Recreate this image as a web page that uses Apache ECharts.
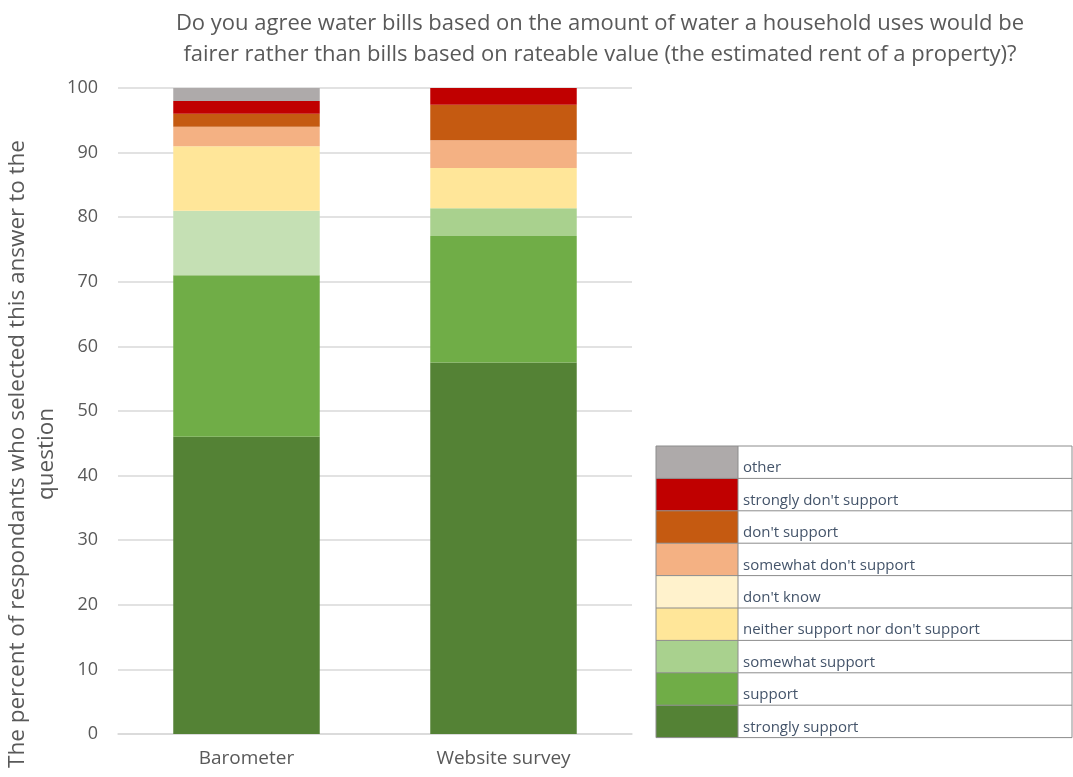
<!DOCTYPE html>
<html>
<head>
<meta charset="utf-8">
<script src="https://cdn.jsdelivr.net/npm/echarts@6/dist/echarts.min.js"></script>
<style>
  html, body { margin: 0; padding: 0; background: #fff; }
  #chart { width: 1073px; height: 777px; }
</style>
</head>
<body>
<div id="chart"></div>
<script>
// Survey groups (x axis)
const categories = ['Barometer', 'Website survey'];

// Answer options, stacked from the bottom of each bar upwards
const answers = [
  'strongly support',
  'support',
  'somewhat support',
  'neither support nor don\'t support',
  'don\'t know',
  'somewhat don\'t support',
  'don\'t support',
  'strongly don\'t support',
  'other'
];

// Percent of respondents per answer, [Barometer, Website survey]
const stronglySupport     = [46, 57.5];
const support             = [25, 19.6];
const somewhatSupport     = [10, 4.3];
const neitherSupport      = [10, 6.2];
const dontKnow            = [0, 0];
const somewhatDontSupport = [3, 4.3];
const dontSupport         = [2, 5.5];
const stronglyDontSupport = [2, 2.6];
const other               = [2, 0];

const values = [
  stronglySupport, support, somewhatSupport, neitherSupport, dontKnow,
  somewhatDontSupport, dontSupport, stronglyDontSupport, other
];

const yTicks = [0, 10, 20, 30, 40, 50, 60, 70, 80, 90, 100];

const colors = [
  '#548235', '#70ad47', '#a9d18e', '#ffe699', '#fff2cc',
  '#f4b183', '#c55a11', '#c00000', '#aeaaaa'
];
// The Barometer "somewhat support" block is drawn in a paler green
const barColorOverride = { 2: { 0: '#c5e0b4' } };

const textColor = '#595959';
const fontFamily = '"Open Sans", "Liberation Sans", sans-serif';

const chart = echarts.init(document.getElementById('chart'));

const series = answers.map((name, i) => ({
  name: name,
  type: 'bar',
  stack: 'total',
  barCategoryGap: '43%',
  itemStyle: { color: colors[i] },
  data: values[i].map((v, j) => {
    const c = barColorOverride[i] && barColorOverride[i][j];
    return c ? { value: v, itemStyle: { color: c } } : v;
  })
}));

// Legend laid out as a two-column table
const legLeft = 656, legTop = 446, legRight = 1072, rowH = 32.4, swatchW = 82;
const legendOrder = answers.slice().reverse();
const tableLines = [];
for (let r = 0; r <= legendOrder.length; r++) {
  const y = legTop + r * rowH;
  tableLines.push({ type: 'line', shape: { x1: legLeft, y1: y, x2: legRight, y2: y },
    style: { stroke: '#8c8c8c', lineWidth: 1 }, z: 100 });
}
[legLeft, legLeft + swatchW, legRight].forEach(x => {
  tableLines.push({ type: 'line',
    shape: { x1: x, y1: legTop, x2: x, y2: legTop + rowH * legendOrder.length },
    style: { stroke: '#8c8c8c', lineWidth: 1 }, z: 100 });
});

chart.setOption({
  backgroundColor: '#fff',
  animation: false,
  color: colors,
  title: {
    text: 'Do you agree water bills based on the amount of water a household uses would be\nfairer rather than bills based on rateable value (the estimated rent of a property)?',
    left: 595,
    top: 3,
    textAlign: 'center',
    textStyle: { color: textColor, fontSize: 22, fontWeight: 'normal', fontFamily: fontFamily, lineHeight: 31 }
  },
  grid: { left: 118, right: 441, top: 88, bottom: 43, containLabel: false },
  legend: {
    orient: 'vertical',
    left: legLeft,
    top: legTop,
    padding: 0,
    itemGap: 0,
    itemWidth: swatchW,
    itemHeight: rowH,
    icon: 'rect',
    selectedMode: false,
    data: legendOrder,
    formatter: name => '{t|' + name + '}',
    textStyle: {
      color: '#44546a', fontSize: 15, fontFamily: fontFamily,
      rich: { t: { color: '#44546a', fontSize: 15, fontFamily: fontFamily, padding: [12, 0, 0, 0] } }
    }
  },
  xAxis: {
    type: 'category',
    data: categories,
    axisLine: { show: true, lineStyle: { color: '#d9d9d9', width: 1.5 } },
    axisTick: { show: false },
    axisLabel: { color: textColor, fontSize: 19, fontFamily: fontFamily, margin: 15 }
  },
  yAxis: {
    type: 'value',
    min: yTicks[0],
    max: yTicks[yTicks.length - 1],
    interval: yTicks[1] - yTicks[0],
    axisLine: { show: false },
    axisTick: { show: false },
    splitLine: { lineStyle: { color: '#d9d9d9', width: 1.5 } },
    axisLabel: { color: textColor, fontSize: 18, fontFamily: fontFamily, margin: 20 }
  },
  graphic: [
    {
      type: 'text',
      x: 32, y: 454,
      rotation: Math.PI / 2,
      style: {
        text: 'The percent of respondants who selected this answer to the\nquestion',
        fill: textColor,
        font: '22.5px ' + fontFamily,
        lineHeight: 29,
        textAlign: 'center',
        textVerticalAlign: 'middle'
      }
    }
  ].concat(tableLines),
  series: series
});
</script>
</body>
</html>
